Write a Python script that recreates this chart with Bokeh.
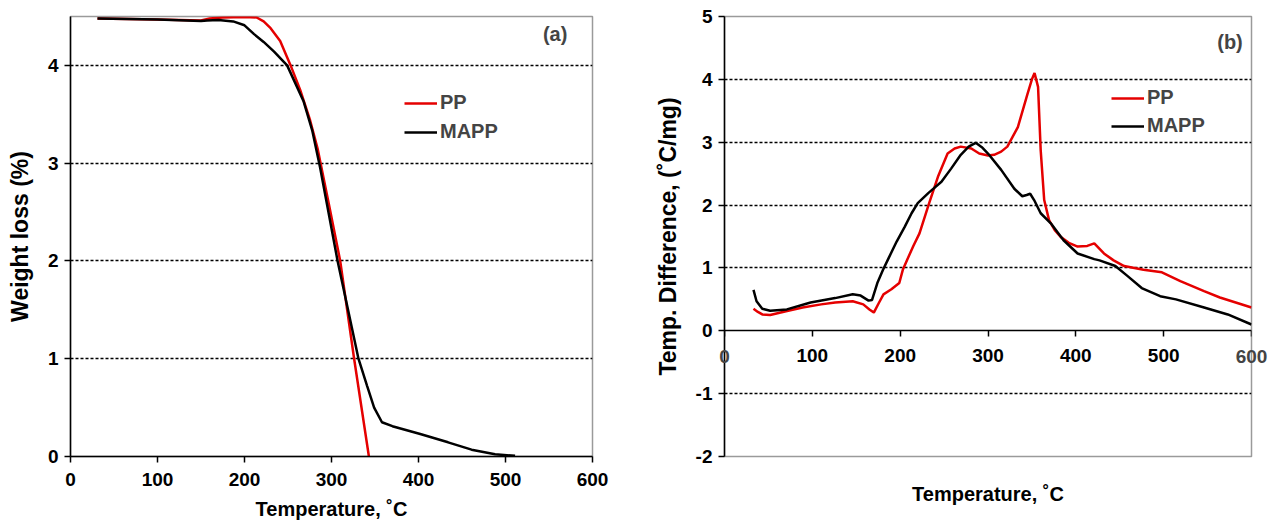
from bokeh.plotting import figure
from bokeh.models import Legend, LegendItem, FixedTicker, LinearAxis, Range1d, Label
from bokeh.layouts import row
from bokeh.embed import file_html
from bokeh.resources import INLINE

FONT = "Liberation Sans"
RED = "#e50000"
BLACK = "#000000"

# ---- (a) TGA: weight loss ----
tga_pp_t = [31, 100, 150, 160, 175, 200, 214, 222, 230, 241, 253, 264, 275, 284, 297, 310, 326, 343]
tga_pp_w = [4.48, 4.47, 4.46, 4.48, 4.49, 4.495, 4.49, 4.45, 4.38, 4.25, 4.0, 3.75, 3.45, 3.15, 2.58, 2.0, 1.0, 0.0]

tga_mapp_t = [31, 100, 150, 157, 170, 187, 200, 211, 222, 234, 249, 268, 278, 287, 307, 319, 331, 341, 349, 358,
              370, 402, 434, 461, 488, 511]
tga_mapp_w = [4.48, 4.47, 4.455, 4.46, 4.465, 4.45, 4.41, 4.32, 4.24, 4.14, 4.0, 3.63, 3.33, 2.95, 2.0, 1.5, 1.0,
              0.72, 0.5, 0.35, 0.31, 0.23, 0.145, 0.07, 0.024, 0.007]

# ---- (b) DTA: temperature difference ----
dta_pp_t = [33, 38, 43, 52, 70, 89, 110, 126, 146, 158, 165, 170, 176, 181, 190, 199, 203, 208, 215, 222, 233,
            243, 254, 262, 269, 281, 290, 300, 307, 315, 322, 334, 345, 350, 353, 357, 360, 364, 369.5, 376,
            383, 392, 402, 413, 421, 432, 443, 455, 477, 498, 519, 546, 564, 600]
dta_pp_v = [0.35, 0.30, 0.26, 0.25, 0.31, 0.37, 0.42, 0.45, 0.47, 0.42, 0.34, 0.29, 0.45, 0.58, 0.66, 0.76, 0.97,
            1.13, 1.35, 1.55, 2.03, 2.45, 2.82, 2.9, 2.93, 2.9, 2.82, 2.79, 2.8, 2.85, 2.93, 3.24, 3.77, 4.0, 4.10,
            3.88, 2.87, 2.08, 1.76, 1.6, 1.49, 1.40, 1.34, 1.35, 1.39, 1.23, 1.12, 1.03, 0.97, 0.93, 0.79, 0.63,
            0.53, 0.37]

dta_mapp_t = [33, 36.5, 43, 52, 71, 98, 126, 146, 155, 164, 168, 174, 180.5, 187, 196, 205, 213, 220, 232, 247,
              258, 269, 278, 286, 293, 300, 315, 330, 339, 344, 348, 352.5, 360, 371.5, 386, 402, 421, 427, 445,
              459, 475, 496, 514, 546, 573, 600]
dta_mapp_v = [0.65, 0.47, 0.35, 0.32, 0.34, 0.45, 0.52, 0.58, 0.56, 0.48, 0.49, 0.76, 0.97, 1.16, 1.42, 1.65,
              1.87, 2.03, 2.19, 2.37, 2.58, 2.8, 2.93, 2.99, 2.92, 2.82, 2.56, 2.26, 2.14, 2.16, 2.18, 2.08, 1.87,
              1.71, 1.44, 1.23, 1.14, 1.12, 1.03, 0.87, 0.68, 0.55, 0.5, 0.37, 0.26, 0.1]

x_ticks = [0, 100, 200, 300, 400, 500, 600]
a_y_ticks = [0, 1, 2, 3, 4]
a_grid = [1, 2, 3, 4]
b_y_ticks = [-2, -1, 0, 1, 2, 3, 4, 5]
b_grid = [-1, 1, 2, 3, 4, 5]
series_names = ["PP", "MAPP"]


def style_axis(ax):
    ax.axis_line_color = BLACK
    ax.axis_line_width = 1.5
    ax.major_tick_line_color = BLACK
    ax.major_tick_line_width = 1.5
    ax.major_tick_out = 6
    ax.major_tick_in = 0
    ax.minor_tick_line_color = None
    ax.major_label_text_font = FONT
    ax.major_label_text_font_style = "bold"
    ax.major_label_text_font_size = "19px"
    ax.major_label_text_color = BLACK
    ax.axis_label_text_font = FONT
    ax.axis_label_text_font_style = "bold"
    ax.axis_label_text_color = BLACK


def style_fig(p, grid_ticks):
    p.outline_line_color = "#9a9a9a"
    p.outline_line_width = 1.5
    p.xgrid.visible = False
    p.ygrid.ticker = FixedTicker(ticks=grid_ticks)
    p.ygrid.grid_line_color = BLACK
    p.ygrid.grid_line_dash = "3 2"
    p.ygrid.grid_line_width = 1.3
    p.background_fill_color = "white"
    p.border_fill_color = "white"


def make_legend(r_pp, r_mapp, loc, spacing):
    lg = Legend(items=[LegendItem(label=series_names[0], renderers=[r_pp]),
                       LegendItem(label=series_names[1], renderers=[r_mapp])],
                location=loc, border_line_color=None, background_fill_alpha=0,
                label_text_font=FONT, label_text_font_style="bold", label_text_font_size="20px",
                glyph_width=33, glyph_height=20, label_height=20, spacing=spacing, padding=0, margin=0,
                label_standoff=3)
    return lg


def tick_label(t):
    return Label(x=t, y=0, text=str(t), text_font=FONT, text_font_style="bold",
                 text_font_size="19px", text_align="center", text_baseline="middle", y_offset=-26)


# ---------- figure (a) ----------
p1 = figure(width=640, height=523, x_range=Range1d(0, 600), y_range=Range1d(0, 4.5),
            output_backend="svg", toolbar_location=None,
            min_border_left=70, min_border_right=48, min_border_top=15, min_border_bottom=67)
style_fig(p1, a_grid)
p1.xaxis.ticker = FixedTicker(ticks=x_ticks)
p1.yaxis.ticker = FixedTicker(ticks=a_y_ticks)
for ax in (p1.xaxis[0], p1.yaxis[0]):
    style_axis(ax)
p1.xaxis.axis_label = "Temperature, ˚C"
p1.xaxis.axis_label_text_font_size = "20px"
p1.xaxis.major_label_standoff = 10
p1.xaxis.axis_label_standoff = 9
p1.yaxis.axis_label = "Weight loss (%)"
p1.yaxis.axis_label_text_font_size = "23px"
p1.yaxis.major_label_standoff = 6
p1.yaxis.axis_label_standoff = 12

r1 = p1.line(tga_pp_t, tga_pp_w, line_color=RED, line_width=2.5)
r2 = p1.line(tga_mapp_t, tga_mapp_w, line_color=BLACK, line_width=2.5)
p1.add_layout(make_legend(r1, r2, (334, 313), 6))
p1.add_layout(Label(x=543, y=4.32, text="(a)", text_font=FONT, text_font_style="bold",
                    text_font_size="20px", text_baseline="middle", text_align="left"))

# ---------- figure (b) ----------
p2 = figure(width=629, height=523, x_range=Range1d(0, 600), y_range=Range1d(-2, 5),
            output_backend="svg", toolbar_location=None,
            min_border_left=83, min_border_right=18, min_border_top=16, min_border_bottom=67)
style_fig(p2, b_grid)
xa = p2.xaxis[0]
xa.ticker = FixedTicker(ticks=x_ticks)
p2.yaxis.ticker = FixedTicker(ticks=b_y_ticks)
style_axis(xa)
style_axis(p2.yaxis[0])
xa.fixed_location = 0
xa.major_label_standoff = 12
# the end labels of the axis at y = 0 would be clipped by the frame; they are drawn as side-panel labels
xa.major_label_overrides = {x_ticks[0]: "", x_ticks[-1]: ""}
p2.yaxis.major_label_overrides = {t: str(t) for t in b_y_ticks}
p2.yaxis.axis_label = "Temp. Difference, (˚C/mg)"
p2.yaxis.axis_label_text_font_size = "23px"
p2.yaxis.major_label_standoff = 6
p2.yaxis.axis_label_standoff = 12

p2.add_layout(tick_label(x_ticks[-1]), "above")
p2.add_layout(tick_label(x_ticks[0]), "left")

title_axis = LinearAxis(ticker=FixedTicker(ticks=[]), axis_label="Temperature, ˚C")
style_axis(title_axis)
title_axis.axis_line_color = None
title_axis.major_tick_line_color = None
title_axis.axis_label_text_font_size = "20px"
title_axis.axis_label_standoff = 26
p2.add_layout(title_axis, "below")

r3 = p2.line(dta_pp_t, dta_pp_v, line_color=RED, line_width=2.5)
r4 = p2.line(dta_mapp_t, dta_mapp_v, line_color=BLACK, line_width=2.5)
p2.add_layout(make_legend(r3, r4, (387, 319), 5))
p2.add_layout(Label(x=561, y=4.59, text="(b)", text_font=FONT, text_font_style="bold",
                    text_font_size="20px", text_baseline="middle", text_align="left"))

layout = row(p1, p2)
open("out.html", "w").write(file_html(layout, INLINE))
